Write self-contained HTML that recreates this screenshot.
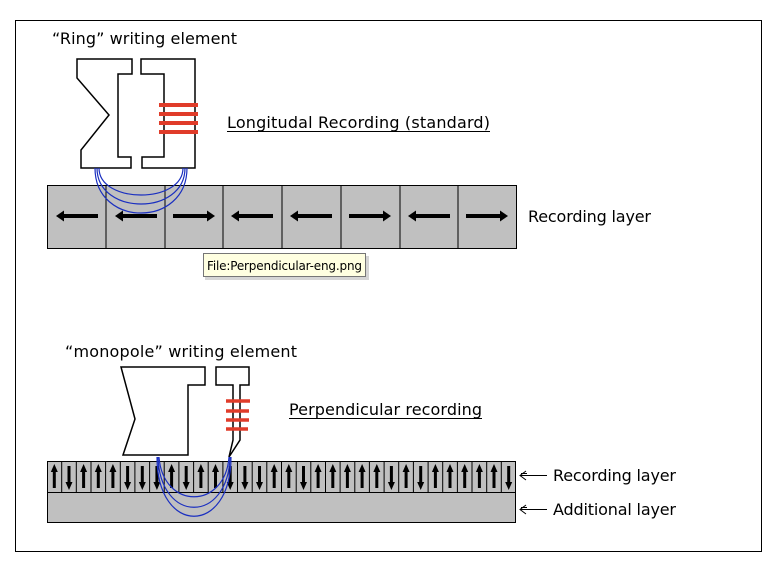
<!DOCTYPE html>
<html><head><meta charset="utf-8"><style>
html,body{margin:0;padding:0;background:#fff;}
svg{display:block;}
text{font-family:"DejaVu Sans","Liberation Sans",sans-serif;fill:#000;}
</style></head><body>
<svg width="773" height="568" viewBox="0 0 773 568" xmlns="http://www.w3.org/2000/svg">
<defs>
<g id="u"><rect x="-1.5" y="469" width="3" height="19" fill="#000"/><polygon points="-3.5,472 0,464 3.5,472" fill="#000"/></g>
<g id="d"><rect x="-1.5" y="466" width="3" height="19" fill="#000"/><polygon points="-3.5,482 0,490 3.5,482" fill="#000"/></g>
<g id="L"><rect x="-13" y="214" width="34" height="4" fill="#000"/><polygon points="-13,210.5 -21,216 -13,221.5" fill="#000"/></g>
<g id="R"><rect x="-21" y="214" width="34" height="4" fill="#000"/><polygon points="13,210.5 21,216 13,221.5" fill="#000"/></g>
</defs>
<rect x="0" y="0" width="773" height="568" fill="#fff"/>
<rect x="15.5" y="20.5" width="746" height="531" fill="#fff" stroke="#000" stroke-width="1"/>

<text x="52" y="44" font-size="16" textLength="185">“Ring” writing element</text>
<text x="227" y="128" font-size="16" textLength="263">Longitudal Recording (standard)</text>
<line x1="227" y1="131.5" x2="490" y2="131.5" stroke="#000"/>

<polygon points="77,59 132,59 132,74 118,74 118,157 131,157 131,168 81,168 81,150 109,115 77,78" fill="#fff" stroke="#000" stroke-width="1.5"/>
<polygon points="141,59 195,59 195,168 142,168 142,157 164,157 164,74 141,74" fill="#fff" stroke="#000" stroke-width="1.5"/>
<g stroke="#e03c2a" stroke-width="4">
<line x1="159" y1="105" x2="198" y2="105"/><line x1="159" y1="114" x2="198" y2="114"/><line x1="159" y1="123" x2="198" y2="123"/><line x1="159" y1="132" x2="198" y2="132"/></g>

<rect x="47.5" y="185.5" width="469" height="63" fill="#c0c0c0" stroke="#000"/>
<g stroke="#000"><line x1="106" y1="185" x2="106" y2="248"/><line x1="165" y1="185" x2="165" y2="248"/><line x1="223" y1="185" x2="223" y2="248"/><line x1="282" y1="185" x2="282" y2="248"/><line x1="341" y1="185" x2="341" y2="248"/><line x1="400" y1="185" x2="400" y2="248"/><line x1="458" y1="185" x2="458" y2="248"/></g>
<use href="#L" x="77"/><use href="#L" x="136"/><use href="#R" x="194"/><use href="#L" x="252"/><use href="#L" x="311"/><use href="#R" x="370"/><use href="#L" x="429"/><use href="#R" x="487"/>
<g fill="none" stroke="#1a2fc0" stroke-width="1.2">
<path d="M99,168 C99,204 183,204 183,168"/>
<path d="M97,168 C97,216 185,216 185,168"/>
<path d="M95,168 C95,228 187,228 187,168"/>
</g>
<text x="528" y="222" font-size="16" textLength="123">Recording layer</text>

<rect x="205" y="256" width="164" height="24" fill="#888" opacity="0.35"/>
<rect x="203.5" y="253.5" width="162" height="23" fill="#ffffe1" stroke="#767676"/>
<text x="207" y="270" font-size="12" textLength="155">File:Perpendicular-eng.png</text>

<text x="65" y="357" font-size="16" textLength="232">“monopole” writing element</text>
<text x="289" y="415" font-size="16" textLength="193">Perpendicular recording</text>
<line x1="289" y1="418.5" x2="482" y2="418.5" stroke="#000"/>
<polygon points="121,367 205,367 205,385 188,385 188,455 123,455 135,419" fill="#fff" stroke="#000" stroke-width="1.5"/>
<polygon points="216,367 249,367 249,385 240,385 240,440 229,457 233,440 233,385 216,385" fill="#fff" stroke="#000" stroke-width="1.5"/>
<g stroke="#e03c2a" stroke-width="3.5">
<line x1="226" y1="401" x2="250" y2="401"/><line x1="226" y1="411" x2="249" y2="411"/><line x1="226" y1="420" x2="249" y2="420"/><line x1="226" y1="429" x2="248" y2="429"/></g>

<rect x="47.5" y="461.5" width="468" height="61" fill="#c0c0c0" stroke="#000"/>
<line x1="47" y1="492.5" x2="516" y2="492.5" stroke="#000"/>
<g stroke="#000">
<line x1="61.7" y1="461" x2="61.7" y2="492"/><line x1="76.3" y1="461" x2="76.3" y2="492"/><line x1="91" y1="461" x2="91" y2="492"/><line x1="105.6" y1="461" x2="105.6" y2="492"/><line x1="120.3" y1="461" x2="120.3" y2="492"/><line x1="134.9" y1="461" x2="134.9" y2="492"/><line x1="149.6" y1="461" x2="149.6" y2="492"/><line x1="164.2" y1="461" x2="164.2" y2="492"/><line x1="178.9" y1="461" x2="178.9" y2="492"/><line x1="193.6" y1="461" x2="193.6" y2="492"/><line x1="208.2" y1="461" x2="208.2" y2="492"/><line x1="222.9" y1="461" x2="222.9" y2="492"/><line x1="237.5" y1="461" x2="237.5" y2="492"/><line x1="252.2" y1="461" x2="252.2" y2="492"/><line x1="266.8" y1="461" x2="266.8" y2="492"/><line x1="281.5" y1="461" x2="281.5" y2="492"/><line x1="296.2" y1="461" x2="296.2" y2="492"/><line x1="310.8" y1="461" x2="310.8" y2="492"/><line x1="325.5" y1="461" x2="325.5" y2="492"/><line x1="340.1" y1="461" x2="340.1" y2="492"/><line x1="354.8" y1="461" x2="354.8" y2="492"/><line x1="369.4" y1="461" x2="369.4" y2="492"/><line x1="384.1" y1="461" x2="384.1" y2="492"/><line x1="398.7" y1="461" x2="398.7" y2="492"/><line x1="413.4" y1="461" x2="413.4" y2="492"/><line x1="428.1" y1="461" x2="428.1" y2="492"/><line x1="442.7" y1="461" x2="442.7" y2="492"/><line x1="457.4" y1="461" x2="457.4" y2="492"/><line x1="472" y1="461" x2="472" y2="492"/><line x1="486.7" y1="461" x2="486.7" y2="492"/><line x1="501.3" y1="461" x2="501.3" y2="492"/>
</g>
<use href="#u" x="54.3"/><use href="#d" x="69"/><use href="#u" x="83.6"/><use href="#u" x="98.3"/><use href="#u" x="112.9"/><use href="#d" x="127.6"/><use href="#d" x="142.3"/><use href="#d" x="156.9"/>
<use href="#u" x="171.6"/><use href="#d" x="186.2"/><use href="#u" x="200.9"/><use href="#u" x="215.5"/><use href="#d" x="230.2"/><use href="#d" x="244.9"/><use href="#d" x="259.5"/><use href="#u" x="274.2"/>
<use href="#u" x="288.8"/><use href="#d" x="303.5"/><use href="#u" x="318.1"/><use href="#u" x="332.8"/><use href="#u" x="347.4"/><use href="#u" x="362.1"/><use href="#u" x="376.8"/><use href="#d" x="391.4"/>
<use href="#u" x="406.1"/><use href="#d" x="420.7"/><use href="#u" x="435.4"/><use href="#u" x="450"/><use href="#u" x="464.7"/><use href="#u" x="479.4"/><use href="#u" x="494"/><use href="#d" x="508.7"/>
<g fill="none" stroke="#1a2fc0" stroke-width="1.2">
<path d="M159,457 C163,510 225,510 229,457"/>
<path d="M158,457 C160,524 228,524 230,457"/>
<path d="M157,457 C157,536 231,536 231,457"/>
</g>
<g stroke="#000" fill="none" stroke-width="1">
<line x1="520" y1="475.5" x2="547" y2="475.5"/><polyline points="526,471 520,475.5 526,480"/><line x1="521" y1="473.5" x2="527" y2="473.5"/>
<line x1="520" y1="509.5" x2="547" y2="509.5"/><polyline points="526,505 520,509.5 526,514"/><line x1="521" y1="507.5" x2="527" y2="507.5"/>
</g>
<text x="553" y="481" font-size="16" textLength="123">Recording layer</text>
<text x="553" y="515" font-size="16" textLength="123">Additional layer</text>
</svg>
</body></html>
